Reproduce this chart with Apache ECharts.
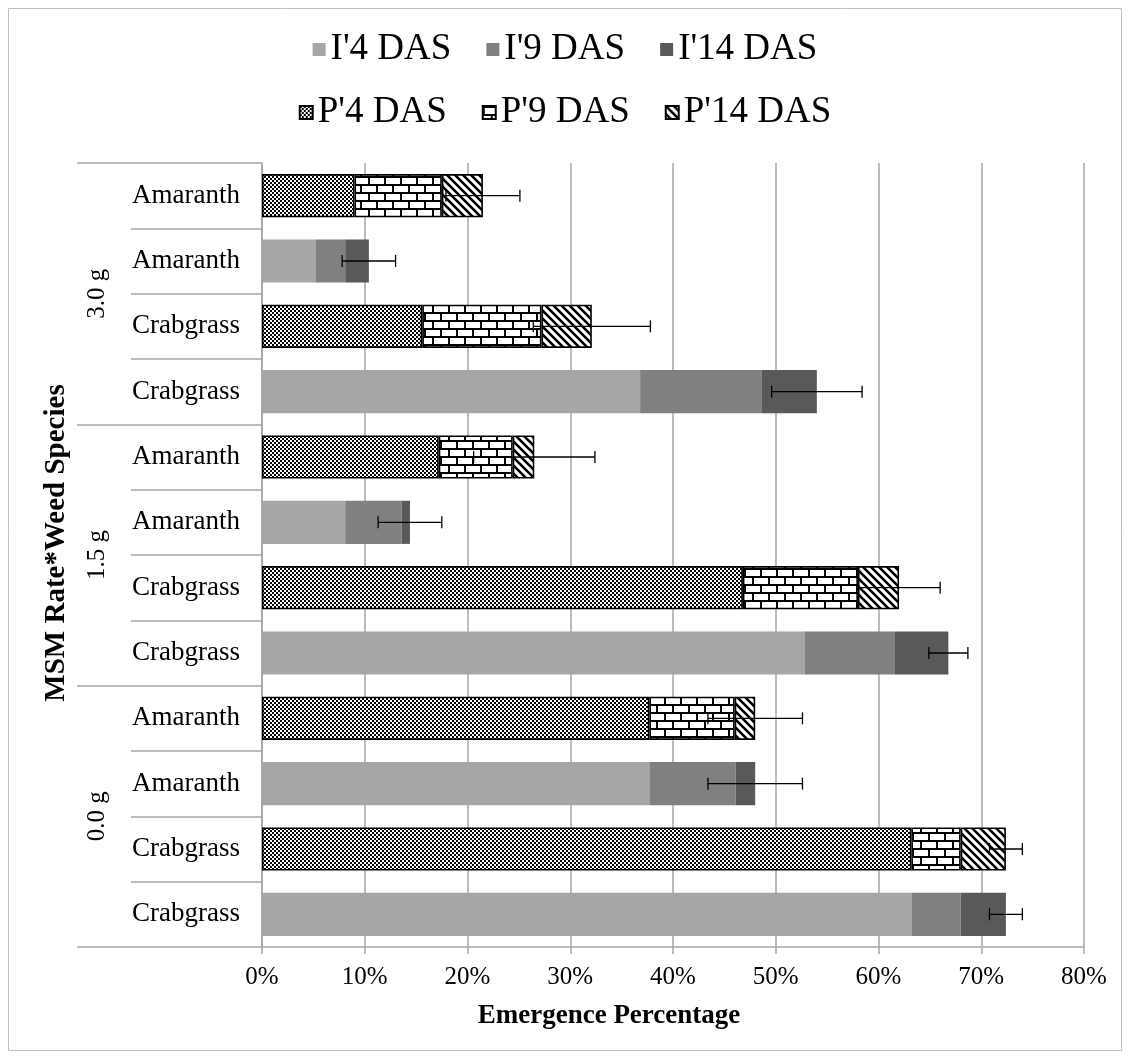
<!DOCTYPE html>
<html><head><meta charset="utf-8">
<script src="https://cdn.jsdelivr.net/npm/echarts@6/dist/echarts.min.js"></script>
<style>html,body{margin:0;padding:0;background:#fff}#c{width:1130px;height:1059px}</style>
</head><body><div id="c"></div>
<script>
// ---- data (rows listed bottom to top) ----
const categories = ['Crabgrass','Crabgrass','Amaranth','Amaranth','Crabgrass','Crabgrass','Amaranth','Amaranth','Crabgrass','Crabgrass','Amaranth','Amaranth'];
const groups = ['0.0 g','1.5 g','3.0 g'];
const seriesNames = ["I'4 DAS","I'9 DAS","I'14 DAS","P'4 DAS","P'9 DAS","P'14 DAS"];
const I4  = [63.2,null,37.7,null,52.8,null,8.1,null,36.8,null,5.2,null];
const I9  = [4.8,null,8.4,null,8.8,null,5.5,null,11.8,null,2.9,null];
const I14 = [4.4,null,1.9,null,5.2,null,0.8,null,5.4,null,2.3,null];
const P4  = [null,63.2,null,37.7,null,46.8,null,17.2,null,15.6,null,9.0];
const P9  = [null,4.8,null,8.3,null,11.2,null,7.2,null,11.6,null,8.5];
const P14 = [null,4.4,null,2.0,null,4.0,null,2.1,null,4.9,null,4.0];
const errors = [1.6,1.6,4.6,4.6,1.9,4.0,3.1,5.9,4.4,5.7,2.6,3.6];
const xMin = 0, xMax = 80, xStep = 10;
const xTitle = 'Emergence Percentage';
const yTitle = 'MSM Rate*Weed Species';

const FONT = "'Liberation Serif','Times New Roman',serif";

function makeCanvas(w,h,draw){
  const c=document.createElement('canvas');c.width=w;c.height=h;
  const g=c.getContext('2d');g.fillStyle='#fff';g.fillRect(0,0,w,h);
  g.fillStyle='#000';g.strokeStyle='#000';draw(g);return c;
}
const checker = makeCanvas(4,4,g=>{g.fillRect(0,0,2,2);g.fillRect(2,2,2,2);});
const brick = makeCanvas(16,16,g=>{g.fillRect(0,0,16,2);g.fillRect(0,8,16,2);g.fillRect(0,0,2,8);g.fillRect(8,8,2,8);});
const diag = makeCanvas(8,8,g=>{
  g.lineWidth=2.6;g.beginPath();
  for(let k=-1;k<=1;k++){g.moveTo(k*8-4,-4);g.lineTo(k*8+12,12);}
  g.stroke();
});

const vals = [I4,I9,I14,P4,P9,P14];
const totals = categories.map((_,i)=>vals.reduce((s,a)=>s+(a[i]||0),0));
const errData = categories.map((_,i)=>[i, totals[i]-errors[i], totals[i]+errors[i]]);

const iColors = ['#a6a6a6','#808080','#595959'];
const pFills = [checker, brick, diag];

const series = vals.map((d,k)=>({
  name: seriesNames[k], type:'bar', stack:'all', data:d, barWidth:'66%',
  itemStyle: k<3 ? {color:iColors[k]} : {color:{image:pFills[k-3],repeat:'repeat'}, borderColor:'#000', borderWidth:1.6},
  emphasis:{disabled:true}
}));
series.push({
  type:'custom', z:10, data:errData, encode:{x:[1,2], y:0}, silent:true,
  renderItem:(params, api)=>{
    const y=api.value(0), p1=api.coord([api.value(1),y]), p2=api.coord([api.value(2),y]);
    const h=6, st={stroke:'#000',lineWidth:1.3};
    return {type:'group',children:[
      {type:'line',shape:{x1:p1[0],y1:p1[1],x2:p2[0],y2:p2[1]},style:st},
      {type:'line',shape:{x1:p1[0],y1:p1[1]-h,x2:p1[0],y2:p1[1]+h},style:st},
      {type:'line',shape:{x1:p2[0],y1:p2[1]-h,x2:p2[0],y2:p2[1]+h},style:st}
    ]};
  }
});

const legendCommon = {left:'center', itemWidth:13, itemHeight:13, itemGap:35, icon:'rect',
  textStyle:{fontSize:37, fontFamily:FONT, color:'#000'}, selectedMode:false};

const chart = echarts.init(document.getElementById('c'));
chart.setOption({
  backgroundColor:'#fff',
  animation:false,
  textStyle:{fontFamily:FONT},
  graphic:[
    {type:'rect', shape:{x:8.5,y:8.5,width:1113,height:1042}, style:{fill:null, stroke:'#bfbfbf', lineWidth:1}, silent:true},
    {type:'text', x:609, y:1016, silent:true,
      style:{text:xTitle, font:"bold 27px 'Liberation Serif','Times New Roman',serif", fill:'#000', textAlign:'center', textVerticalAlign:'middle'}},
    {type:'text', x:57, y:543, rotation:Math.PI/2, silent:true,
      style:{text:yTitle, font:"bold 29px 'Liberation Serif','Times New Roman',serif", fill:'#000', textAlign:'center', textVerticalAlign:'middle'}}
  ],
  legend:[
    Object.assign({data:seriesNames.slice(0,3), top:26}, legendCommon),
    Object.assign({data:seriesNames.slice(3), top:89}, legendCommon)
  ],
  grid:{left:262, right:46, top:163, bottom:112, containLabel:false},
  xAxis:{type:'value', min:xMin, max:xMax, interval:xStep,
    axisLabel:{formatter:'{value}%', fontSize:25, color:'#000', fontFamily:FONT, margin:18},
    axisLine:{show:true, lineStyle:{color:'#a6a6a6', width:1.5}},
    axisTick:{show:true, length:7, lineStyle:{color:'#a6a6a6', width:1.5}},
    splitLine:{show:true, lineStyle:{color:'#a6a6a6', width:1.5}}
  },
  yAxis:[
    {type:'category', data:categories, position:'left',
      axisLine:{show:true, lineStyle:{color:'#a6a6a6', width:1.5}},
      axisTick:{show:true, length:131, interval:0, lineStyle:{color:'#a6a6a6', width:1.5}},
      axisLabel:{interval:0, align:'center', margin:76, fontSize:27, color:'#000', fontFamily:FONT},
      splitLine:{show:false}
    },
    {type:'category', data:groups, position:'left', offset:0,
      axisLine:{show:false},
      axisTick:{show:true, length:185, interval:0, lineStyle:{color:'#a6a6a6', width:1.5}},
      axisLabel:{interval:0, rotate:90, margin:152, fontSize:25, color:'#000', fontFamily:FONT},
      splitLine:{show:false}
    }
  ],
  series:series
});
</script></body></html>
